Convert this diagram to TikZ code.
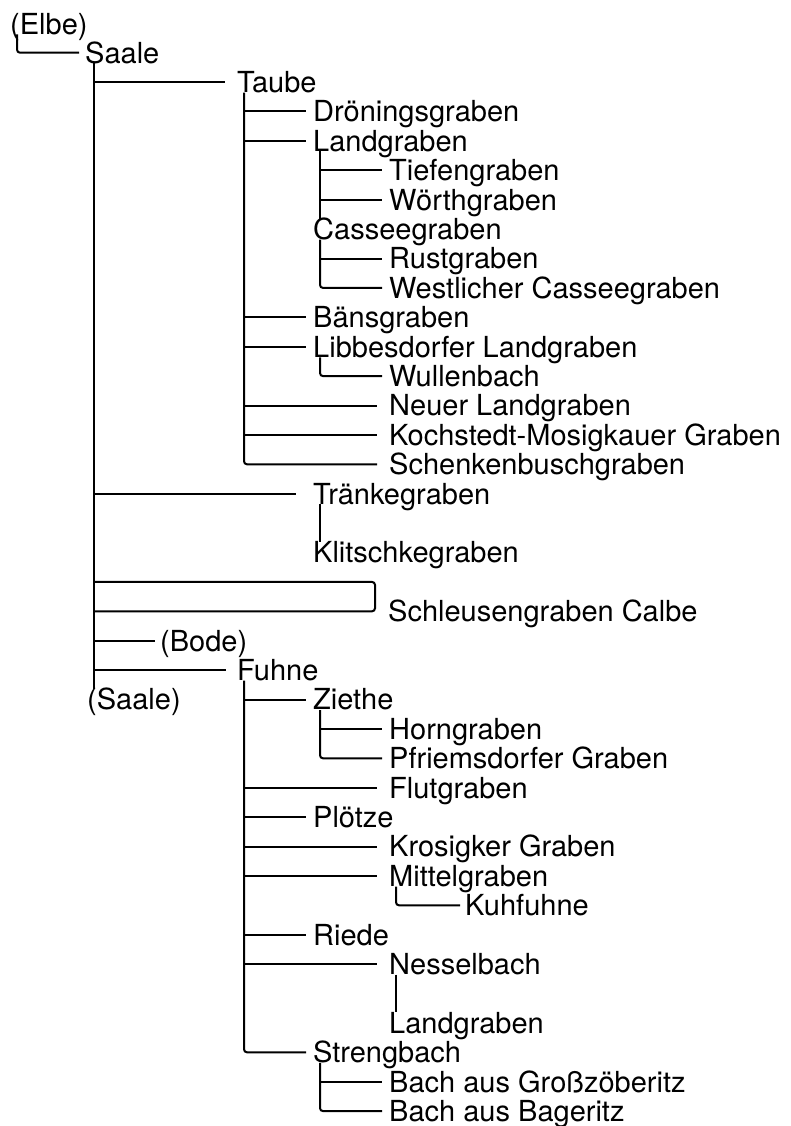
\documentclass[tikz,border=0pt]{standalone}
\usepackage{fontspec}
\setmainfont{TeX Gyre Heros}
\tikzset{
  lbl/.style={anchor=west, inner sep=0pt, text height=20.8pt, text depth=0pt, font=\fontsize{29}{29}\selectfont},
  conn/.style={line width=2pt},
  corner/.style={conn, rounded corners=3pt}
}
\begin{document}
\begin{tikzpicture}[x=1pt,y=-1pt]
\useasboundingbox (0,0) rectangle (791,1126);
% nodes
\node[lbl] (elbe) at (10,23.8) {(Elbe)};
\node[lbl] (saale) at (85,52.7) {Saale};
\node[lbl] (taube) at (237,82.1) {Taube};
\node[lbl] (dron) at (313,111.5) {Dröningsgraben};
\node[lbl] (landg) at (313,140.9) {Landgraben};
\node[lbl] (tiefen) at (389,170.3) {Tiefengraben};
\node[lbl] (woerth) at (389,199.7) {Wörthgraben};
\node[lbl] (cassee) at (313,229.1) {Casseegraben};
\node[lbl] (rust) at (389,258.5) {Rustgraben};
\node[lbl] (westl) at (389,287.9) {Westlicher Casseegraben};
\node[lbl] (baens) at (313,317.3) {Bänsgraben};
\node[lbl] (libb) at (313,346.7) {Libbesdorfer Landgraben};
\node[lbl] (wullen) at (389,376.1) {Wullenbach};
\node[lbl] (neuer) at (389,405.5) {Neuer Landgraben};
\node[lbl] (koch) at (389,434.9) {Kochstedt-Mosigkauer Graben};
\node[lbl] (schenk) at (389,464.3) {Schenkenbuschgraben};
\node[lbl] (traenke) at (313,493.7) {Tränkegraben};
\node[lbl] (klitsch) at (313,552.5) {Klitschkegraben};
\node[lbl] (schl) at (388,611.3) {Schleusengraben Calbe};
\node[lbl] (bode) at (160,640.7) {(Bode)};
\node[lbl] (fuhne) at (237,670.1) {Fuhne};
\node[lbl] (saaleend) at (87,699.5) {(Saale)};
\node[lbl] (ziethe) at (313,699.5) {Ziethe};
\node[lbl] (horn) at (389,728.9) {Horngraben};
\node[lbl] (pfriem) at (389,758.3) {Pfriemsdorfer Graben};
\node[lbl] (flut) at (389,787.7) {Flutgraben};
\node[lbl] (ploetze) at (313,817.1) {Plötze};
\node[lbl] (krosig) at (389,846.5) {Krosigker Graben};
\node[lbl] (mittel) at (389,875.9) {Mittelgraben};
\node[lbl] (kuh) at (465,905.3) {Kuhfuhne};
\node[lbl] (riede) at (313,934.7) {Riede};
\node[lbl] (nessel) at (389,964.1) {Nesselbach};
\node[lbl] (landg2) at (389,1022.9) {Landgraben};
\node[lbl] (streng) at (313,1052.3) {Strengbach};
\node[lbl] (grossz) at (389,1081.7) {Bach aus Großzöberitz};
\node[lbl] (bager) at (389,1111.1) {Bach aus Bageritz};
% vertical start points
\coordinate (ev) at ([xshift=7pt]elbe.south west);
\coordinate (sv) at ([xshift=9pt]saale.south west);
\coordinate (tv) at ([xshift=7pt]taube.south west);
\coordinate (lv) at ([xshift=7pt]landg.south west);
\coordinate (cv) at ([xshift=7pt]cassee.south west);
\coordinate (libv) at ([xshift=7pt]libb.south west);
\coordinate (trv) at ([xshift=7pt]traenke.south west);
\coordinate (fv) at ([xshift=7pt]fuhne.south west);
\coordinate (zv) at ([xshift=7pt]ziethe.south west);
\coordinate (mv) at ([xshift=7pt]mittel.south west);
\coordinate (nv) at ([xshift=7pt]nessel.south west);
\coordinate (stv) at ([xshift=7pt]streng.south west);
% Elbe -> Saale
\draw[corner] (ev) |- ([xshift=-6pt]saale.west);
% Saale
\draw[conn] (sv) -- (sv |- saaleend.north);
\draw[conn] (sv |- taube.west) -- ([xshift=-12pt]taube.west);
\draw[conn] (sv |- traenke.west) -- ([xshift=-17pt]traenke.west);
\coordinate (schtop) at ([yshift=29.4pt]schl.west);
\draw[corner] (sv |- schtop) -- ([xshift=-13pt]schtop) -- ([xshift=-13pt]schl.west) -- (sv |- schl.west);
\draw[conn] (sv |- bode.west) -- ([xshift=-5pt]bode.west);
\draw[conn] (sv |- fuhne.west) -- ([xshift=-11pt]fuhne.west);
% Taube
\draw[corner] (tv) |- ([xshift=-12pt]schenk.west);
\draw[conn] (tv |- dron.west) -- ([xshift=-7pt]dron.west);
\draw[conn] (tv |- landg.west) -- ([xshift=-7pt]landg.west);
\draw[conn] (tv |- baens.west) -- ([xshift=-7pt]baens.west);
\draw[conn] (tv |- libb.west) -- ([xshift=-7pt]libb.west);
\draw[conn] (tv |- neuer.west) -- ([xshift=-12pt]neuer.west);
\draw[conn] (tv |- koch.west) -- ([xshift=-12pt]koch.west);
% Landgraben
\draw[conn] (lv) -- (lv |- cassee.north);
\draw[conn] (lv |- tiefen.west) -- ([xshift=-7pt]tiefen.west);
\draw[conn] (lv |- woerth.west) -- ([xshift=-7pt]woerth.west);
% Casseegraben
\draw[corner] (cv) |- ([xshift=-7pt]westl.west);
\draw[conn] (cv |- rust.west) -- ([xshift=-7pt]rust.west);
% Libbesdorfer
\draw[corner] (libv) |- ([xshift=-7pt]wullen.west);
% Traenke
\draw[conn] (trv) -- (trv |- klitsch.north);
% Fuhne
\draw[corner] (fv) |- ([xshift=-7pt]streng.west);
\draw[conn] (fv |- ziethe.west) -- ([xshift=-7pt]ziethe.west);
\draw[conn] (fv |- flut.west) -- ([xshift=-12pt]flut.west);
\draw[conn] (fv |- ploetze.west) -- ([xshift=-7pt]ploetze.west);
\draw[conn] (fv |- krosig.west) -- ([xshift=-12pt]krosig.west);
\draw[conn] (fv |- mittel.west) -- ([xshift=-12pt]mittel.west);
\draw[conn] (fv |- riede.west) -- ([xshift=-7pt]riede.west);
\draw[conn] (fv |- nessel.west) -- ([xshift=-12pt]nessel.west);
% Ziethe
\draw[corner] (zv) |- ([xshift=-7pt]pfriem.west);
\draw[conn] (zv |- horn.west) -- ([xshift=-7pt]horn.west);
% Mittelgraben
\draw[corner] (mv) |- ([xshift=-5pt]kuh.west);
% Nesselbach
\draw[conn] (nv) -- (nv |- landg2.north);
% Strengbach
\draw[corner] (stv) |- ([xshift=-7pt]bager.west);
\draw[conn] (stv |- grossz.west) -- ([xshift=-7pt]grossz.west);
\end{tikzpicture}
\end{document}
